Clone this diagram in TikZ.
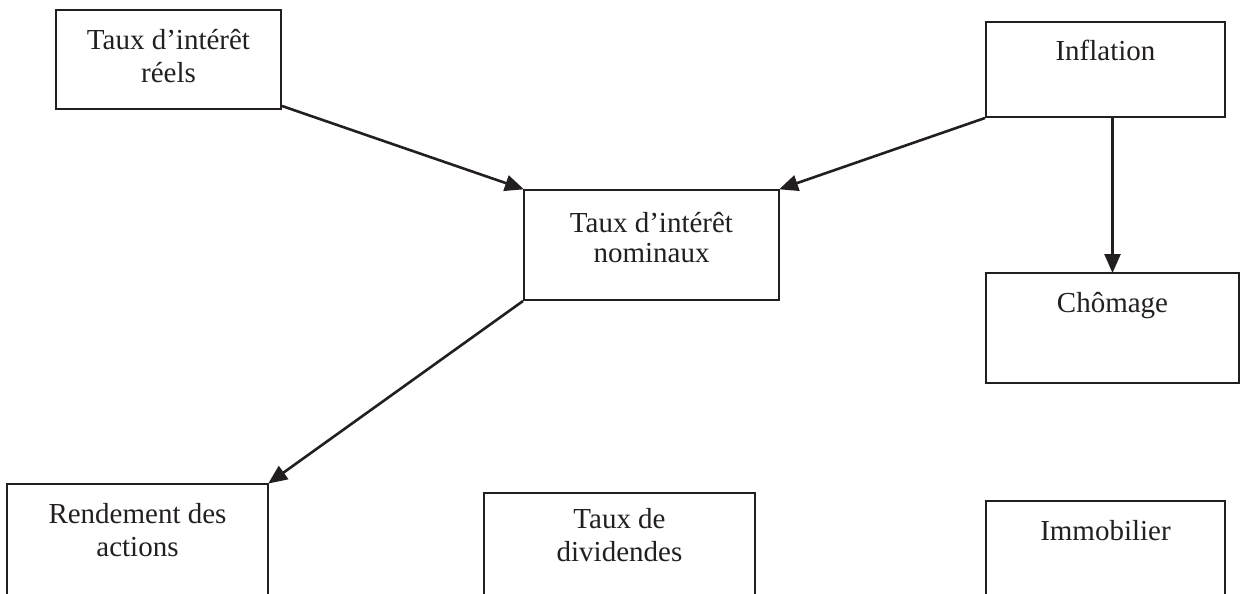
\documentclass[tikz,border=0pt]{standalone}
\usepackage{fontspec}
\setmainfont{Liberation Serif}
\usetikzlibrary{arrows.meta,calc}
\definecolor{ink}{HTML}{231F20}
\begin{document}
\begin{tikzpicture}[x=1pt,y=-1pt,
  box/.style={draw=ink,line width=2pt,rectangle,inner sep=0pt,minimum width=#1},
  lbl/.style={text=ink,align=center,anchor=base,inner sep=0pt,font=\fontsize{29}{33}\selectfont},
  arr/.style={draw=ink,line width=2.6pt,-{Triangle[length=19pt,width=16pt]},shorten >=-1pt}]
\useasboundingbox (0,0) rectangle (1242,594);
\clip (0,0) rectangle (1242,594);
% boxes
\node[box=225pt,minimum height=99pt]  (b1) at (168.5,59.5) {};
\node[box=239pt,minimum height=95pt]  (b2) at (1105.5,69.5) {};
\node[box=255pt,minimum height=110pt] (b3) at (651.5,245) {};
\node[box=253pt,minimum height=110pt] (b4) at (1112.5,328) {};
\node[box=261pt,minimum height=136pt] (b5) at (137.5,552) {};
\node[box=271pt,minimum height=127pt] (b6) at (619.5,556.5) {};
\node[box=239pt,minimum height=119pt] (b7) at (1105.5,560.5) {};
% texts (base anchor = baseline of last line)
\node[lbl] (t1) at (168.5,82) {Taux d’intérêt\\réels};
\node[lbl] (t2) at (1105.5,60) {Inflation};
\node[lbl,font=\fontsize{29}{30}\selectfont] (t3) at (651.5,262) {Taux d’intérêt\\nominaux};
\node[lbl] (t4) at (1112.5,312) {Chômage};
\node[lbl] (t5) at (137.5,556) {Rendement des\\actions};
\node[lbl] (t6) at (619.5,561) {Taux de\\dividendes};
\node[lbl] (t7) at (1105.5,540) {Immobilier};
% arrows
\draw[arr] ($(b1.south east)+(0,-4)$) -- (b3.north west);
\draw[arr] (b2.south west) -- (b3.north east);
\draw[arr] (b4.north |- b2.south) -- (b4.north);
\draw[arr] (b3.south west) -- (b5.north east);
\end{tikzpicture}
\end{document}
